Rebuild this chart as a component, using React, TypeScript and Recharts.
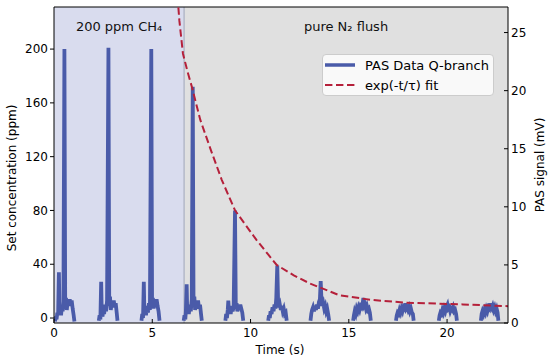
import { LineChart, Line, XAxis, YAxis, ReferenceArea, ReferenceLine } from "recharts";

const FONT = "DejaVu Sans";
const BLUE = "#4a5ba9";
const RED = "#b5203a";

const PAS_NAME = "PAS Data Q-branch";
const FIT_NAME = "exp(-t/τ) fit";

const X_TICKS = [0, 5, 10, 15, 20];
const PPM_TICKS = [0, 40, 80, 120, 160, 200];
const MV_TICKS = [0, 5, 10, 15, 20, 25];

const T_MAX = 23.1;
const CH4_END = 6.62; // gas switched to N2 here (s)

// PAS bursts, one per modulation cycle: [time (s), ppm]
const BURSTS: [number, number][][] = [
  [[0.05, -2.5], [0.09, 1], [0.13, -1], [0.17, 4], [0.21, 2], [0.25, 34], [0.28, 3], [0.32, 6], [0.36, 2], [0.4, 9], [0.44, 5], [0.48, 12], [0.53, 200], [0.57, 8], [0.61, 15], [0.65, 6], [0.7, 13], [0.75, 10], [0.8, 14], [0.85, 9], [0.9, 13], [0.95, 7], [1.0, 2], [1.04, -2.5]],
  [[2.28, -2], [2.32, 2], [2.36, -1], [2.4, 27], [2.43, 4], [2.47, 1], [2.51, 7], [2.55, 3], [2.6, 10], [2.65, 5], [2.7, 13], [2.77, 201], [2.81, 9], [2.85, 16], [2.89, 6], [2.94, 12], [2.99, 9], [3.04, 13], [3.09, 8], [3.14, 11], [3.19, 4], [3.23, -2]],
  [[4.45, -2], [4.49, 3], [4.53, 0], [4.57, 27], [4.6, 3], [4.64, 6], [4.68, 2], [4.73, 9], [4.78, 4], [4.83, 11], [4.88, 6], [4.95, 200], [4.99, 10], [5.03, 15], [5.07, 7], [5.12, 13], [5.17, 8], [5.22, 14], [5.27, 9], [5.32, 5], [5.37, -2]],
  [[6.6, -2], [6.64, 2], [6.68, -1], [6.71, 5], [6.75, 25], [6.78, 4], [6.82, 8], [6.86, 3], [6.91, 10], [6.96, 5], [7.01, 14], [7.06, 172], [7.1, 9], [7.14, 16], [7.18, 6], [7.23, 12], [7.28, 9], [7.33, 13], [7.38, 7], [7.43, 10], [7.48, 3], [7.52, -2]],
  [[8.72, -2], [8.76, 3], [8.8, 0], [8.84, 6], [8.87, 13], [8.91, 4], [8.95, 7], [8.99, 3], [9.04, 9], [9.09, 5], [9.14, 8], [9.21, 80], [9.25, 7], [9.29, 11], [9.33, 5], [9.38, 9], [9.43, 6], [9.48, 10], [9.53, 7], [9.58, 4], [9.63, -2]],
  [[10.9, -2], [10.94, 2], [10.98, 0], [11.02, 5], [11.07, 3], [11.12, 8], [11.17, 5], [11.22, 10], [11.27, 7], [11.31, 15], [11.36, 39], [11.4, 14], [11.44, 8], [11.49, 10], [11.54, 6], [11.59, 9], [11.64, 5], [11.69, 7], [11.74, 3], [11.79, 4], [11.84, -2]],
  [[13.05, -2], [13.09, 3], [13.13, 6], [13.18, 8], [13.23, 5], [13.28, 9], [13.33, 6], [13.38, 10], [13.43, 7], [13.48, 12], [13.53, 14], [13.57, 27.5], [13.61, 13], [13.65, 9], [13.7, 11], [13.75, 7], [13.8, 9], [13.85, 5], [13.9, 7], [13.95, 3], [14.0, -2]],
  [[15.22, -2], [15.26, 2], [15.3, 5], [15.35, 3], [15.4, 7], [15.45, 5], [15.5, 8], [15.55, 6], [15.6, 9], [15.65, 8], [15.7, 10], [15.74, 15], [15.78, 9], [15.82, 10], [15.87, 7], [15.92, 9], [15.97, 6], [16.02, 7], [16.07, 4], [16.12, -2]],
  [[17.4, -2], [17.44, 2], [17.48, 4], [17.53, 3], [17.58, 6], [17.63, 4], [17.68, 7], [17.73, 5], [17.78, 8], [17.83, 7], [17.88, 11], [17.92, 7], [17.96, 8], [18.01, 6], [18.06, 8], [18.11, 5], [18.16, 7], [18.21, 4], [18.26, 3], [18.3, -2]],
  [[19.58, -2], [19.62, 2], [19.66, 4], [19.71, 3], [19.76, 6], [19.81, 4], [19.86, 7], [19.91, 5], [19.96, 8], [20.02, 10], [20.06, 7], [20.11, 8], [20.16, 5], [20.21, 7], [20.26, 6], [20.31, 8], [20.36, 5], [20.41, 6], [20.46, 3], [20.5, -2]],
  [[21.72, -2], [21.76, 3], [21.8, 5], [21.85, 3], [21.9, 6], [21.95, 4], [22.0, 7], [22.05, 5], [22.1, 8], [22.15, 7], [22.19, 11], [22.23, 8], [22.27, 7], [22.32, 9], [22.37, 6], [22.42, 8], [22.47, 5], [22.52, 7], [22.57, 4], [22.61, -2]],
];

// exponential decay fit of the peaks (mV)
const FIT_T = [6.2, 6.38, 6.56, 6.8, 7.02, 7.44, 8.0, 8.54, 9.21, 10.3, 11.33, 12.2, 13.02, 14.5, 16.1, 17.9, 20.8, 23.1];
const FIT_MV = [30.0, 26.0, 23.2, 21.6, 20.3, 17.5, 14.8, 12.3, 9.7, 7.15, 5.0, 4.1, 3.4, 2.4, 2.0, 1.75, 1.6, 1.45];

const pasData = BURSTS.flatMap((b) => [
  ...b.map(([t, v]) => ({ t, ppm: v as number | null })),
  { t: b[b.length - 1][0] + 0.01, ppm: null },
]);
const fitData = FIT_T.map((t, i) => ({ t, mv: FIT_MV[i] }));

const LEGEND = [
  { name: PAS_NAME, color: BLUE, width: 3.5, dash: undefined },
  { name: FIT_NAME, color: RED, width: 2, dash: "7.4 3.6" },
];

const BottomTick = ({ x, y, payload }: any) => (
  <g>
    <line x1={x} y1={y - 5} x2={x} y2={y - 9} stroke="#000" />
    <text x={x} y={y} dy="0.71em" textAnchor="middle" fontSize={12} fontFamily={FONT} fill="#000">{payload.value}</text>
  </g>
);

const RightTick = ({ x, y, payload }: any) => (
  <g>
    <line x1={x - 3} y1={y} x2={x - 7} y2={y} stroke="#000" />
    <text x={x} y={y} dy="0.36em" textAnchor="start" fontSize={12} fontFamily={FONT} fill="#000">{payload.value}</text>
  </g>
);

const App = () => (
  <div style={{ position: "absolute", left: 0, top: 0, width: 550, height: 361 }}>
    <LineChart width={550} height={361} margin={{ top: 7, right: 0, bottom: 0, left: 0 }}>
      <XAxis
        dataKey="t" type="number" domain={[0, T_MAX]} ticks={X_TICKS} allowDataOverflow
        height={38} tickSize={0} tickMargin={5} tickLine={false} tick={<BottomTick />}
        axisLine={{ stroke: "#000" }}
        label={{ content: () => <text x={280} y={350} dy="0.36em" textAnchor="middle" fontSize={12} fontFamily={FONT} fill="#000">Time (s)</text> }}
      />
      <YAxis
        yAxisId="ppm" domain={[-3.7, 231.3]} ticks={PPM_TICKS} allowDataOverflow width={54}
        tickSize={4} tickMargin={2} tickLine={{ stroke: "#000" }} axisLine={{ stroke: "#000" }}
        tick={{ fill: "#000", fontSize: 12, fontFamily: FONT }}
        label={{ content: () => <text x={12} y={178} transform="rotate(-90 12 178)" dy="0.36em" textAnchor="middle" fontSize={12} fontFamily={FONT} fill="#000">Set concentration (ppm)</text> }}
      />
      <YAxis
        yAxisId="mv" orientation="right" domain={[0, 27.2]} ticks={MV_TICKS} allowDataOverflow width={42}
        tickSize={0} tickMargin={3} tickLine={false} tick={<RightTick />} axisLine={{ stroke: "#000" }}
        label={{ content: () => <text x={540} y={165} transform="rotate(-90 540 165)" dy="0.36em" textAnchor="middle" fontSize={12} fontFamily={FONT} fill="#000">PAS signal (mV)</text> }}
      />
      <ReferenceArea
        yAxisId="ppm" x1={0} x2={CH4_END} fill="#d9dcee" fillOpacity={1}
        label={{ value: "200 ppm CH₄", position: "insideTop", offset: 15, fill: "#111", fontSize: 13, fontFamily: FONT }}
      />
      <ReferenceArea
        yAxisId="ppm" x1={CH4_END} x2={T_MAX} fill="#e0e0e0" fillOpacity={1}
        label={{ value: "pure N₂ flush", position: "insideTop", offset: 15, fill: "#111", fontSize: 13, fontFamily: FONT }}
      />
      <ReferenceLine yAxisId="ppm" x={CH4_END} stroke="#b4b8c8" strokeWidth={1.5} />
      <ReferenceLine yAxisId="ppm" y={231.3} stroke="#000" />
      <Line
        yAxisId="ppm" data={pasData} dataKey="ppm" name={PAS_NAME} stroke={BLUE} strokeWidth={3.8}
        dot={false} connectNulls={false} isAnimationActive={false}
      />
      <Line
        yAxisId="mv" data={fitData} dataKey="mv" name={FIT_NAME} stroke={RED} strokeWidth={2}
        strokeDasharray="7.4 3.6" dot={false} isAnimationActive={false}
      />
    </LineChart>
    <div style={{ position: "absolute", left: 322, top: 54, background: "rgba(255,255,255,0.8)", border: "1px solid #cccccc", borderRadius: 4, width: 172, height: 42, boxSizing: "border-box", padding: "0 0 0 2px", fontFamily: FONT, fontSize: 13, color: "#000" }}>
      {LEGEND.map((p) => (
        <div key={p.name} style={{ display: "flex", alignItems: "center", height: 20 }}>
          <svg width={30} height={10} style={{ flexShrink: 0 }}>
            <line x1={0} y1={5} x2={30} y2={5} stroke={p.color} strokeWidth={p.width} strokeDasharray={p.dash} />
          </svg>
          <span style={{ marginLeft: 10, whiteSpace: "nowrap" }}>{p.name}</span>
        </div>
      ))}
    </div>
  </div>
);

export default App;
